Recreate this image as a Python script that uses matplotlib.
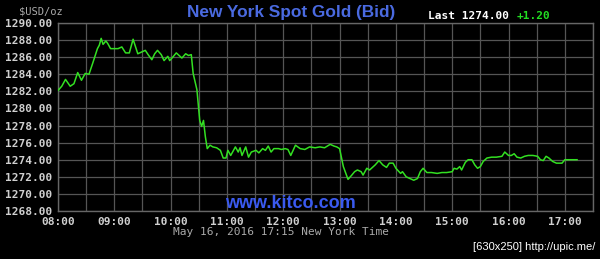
import matplotlib
matplotlib.use("Agg")
import matplotlib.pyplot as plt
import numpy as np

# Spot gold bid, May 16 2016 (New York time)
times = ["08:00", "08:04", "08:08", "08:13", "08:17", "08:21", "08:25", "08:29", "08:33", "08:37",
         "08:42", "08:44", "08:46", "08:48", "08:51", "08:53", "08:56", "09:00", "09:04", "09:08",
         "09:12", "09:16", "09:20", "09:25", "09:29", "09:33", "09:36", "09:40", "09:43", "09:46",
         "09:50", "09:53", "09:57", "09:59", "10:03", "10:06", "10:12", "10:16", "10:19", "10:22",
         "10:24", "10:28", "10:31", "10:33", "10:35", "10:37", "10:39", "10:42", "10:45", "10:49",
         "10:53", "10:56", "10:59", "11:01", "11:04", "11:09", "11:12", "11:14", "11:16", "11:20",
         "11:23", "11:26", "11:31", "11:34", "11:38", "11:41", "11:44", "11:47", "11:50", "11:55",
         "11:58", "12:02", "12:05", "12:08", "12:13", "12:18", "12:23", "12:28", "12:34", "12:39",
         "12:44", "12:50", "12:54", "12:57", "13:00", "13:04", "13:09", "13:13", "13:16", "13:19",
         "13:23", "13:25", "13:29", "13:32", "13:38", "13:42", "13:46", "13:50", "13:53", "13:57",
         "14:00", "14:05", "14:07", "14:11", "14:15", "14:19", "14:23", "14:26", "14:29", "14:33",
         "14:38", "14:44", "14:49", "14:54", "15:00", "15:02", "15:05", "15:08", "15:10", "15:14",
         "15:17", "15:21", "15:24", "15:27", "15:30", "15:33", "15:37", "15:42", "15:47", "15:53",
         "15:56", "16:00", "16:03", "16:06", "16:09", "16:13", "16:17", "16:21", "16:26", "16:31",
         "16:34", "16:37", "16:40", "16:43", "16:47", "16:51", "16:57", "17:00", "17:06", "17:13"]
prices = [1282.1, 1282.6, 1283.4, 1282.6, 1282.9, 1284.2, 1283.3, 1284.1, 1284.0, 1285.3,
          1287.0, 1287.4, 1288.2, 1287.5, 1287.9, 1287.6, 1287.0, 1287.0, 1287.0, 1287.2,
          1286.5, 1286.5, 1288.1, 1286.4, 1286.6, 1286.8, 1286.3, 1285.7, 1286.4, 1286.8,
          1286.3, 1285.6, 1286.1, 1285.6, 1286.1, 1286.5, 1285.9, 1286.4, 1286.2, 1286.3,
          1284.1, 1282.2, 1278.6, 1277.9, 1278.6, 1276.7, 1275.3, 1275.7, 1275.5, 1275.4,
          1275.1, 1274.2, 1274.2, 1275.1, 1274.5, 1275.5, 1274.9, 1275.4, 1274.5, 1275.5,
          1274.3, 1274.9, 1275.1, 1274.8, 1275.3, 1275.1, 1275.6, 1274.9, 1275.3, 1275.3,
          1275.2, 1275.3, 1275.2, 1274.5, 1275.7, 1275.3, 1275.2, 1275.5, 1275.4, 1275.5,
          1275.4, 1275.8, 1275.6, 1275.5, 1275.3, 1273.2, 1271.7, 1272.2, 1272.6, 1272.8,
          1272.6, 1272.2, 1273.0, 1272.8, 1273.4, 1273.9, 1273.4, 1273.1, 1273.6, 1273.6,
          1273.0, 1272.4, 1272.6, 1272.0, 1271.8, 1271.6, 1271.8, 1272.6, 1273.0, 1272.5,
          1272.5, 1272.4, 1272.5, 1272.5, 1272.6, 1273.0, 1272.9, 1273.2, 1272.8, 1273.7,
          1274.0, 1274.0, 1273.4, 1273.0, 1273.2, 1273.8, 1274.2, 1274.3, 1274.3, 1274.4,
          1274.9, 1274.5, 1274.5, 1274.7, 1274.3, 1274.2, 1274.4, 1274.5, 1274.5, 1274.4,
          1274.0, 1273.9, 1274.4, 1274.2, 1273.8, 1273.6, 1273.6, 1274.0, 1274.0, 1274.0]

hour_labels = ["08:00", "09:00", "10:00", "11:00", "12:00", "13:00", "14:00", "15:00", "16:00", "17:00"]
price_ticks = np.arange(1268, 1291, 2)

title = "New York Spot Gold (Bid)"
last_text = "Last 1274.00"
change_text = "+1.20"
stamp = "May 16, 2016 17:15 New York Time"


def to_hours(s):
    h, m = s.split(":")
    return int(h) + int(m) / 60.0


x = [to_hours(t) for t in times]

fig = plt.figure(figsize=(6.0, 2.59), dpi=100, facecolor="black")
ax = fig.add_axes([58 / 600, 1 - 211 / 259, 535 / 600, 188 / 259], facecolor="black")

ax.plot(x, prices, color="#33e022", linewidth=1.1, zorder=3)

# gridlines every half hour, labels on the hour only
half_hours = np.arange(8, 17.51, 0.5)
ax.set_xlim(8, 17.5)
ax.set_ylim(1268, 1290)
ax.set_xticks(half_hours)
ax.set_xticklabels([hour_labels[i // 2] if i % 2 == 0 and i // 2 < len(hour_labels) else ""
                    for i in range(len(half_hours))])
ax.set_yticks(price_ticks)
ax.set_yticklabels([f"{v:.2f}" for v in price_ticks])
ax.grid(True, color="#555555", linewidth=0.9)
ax.tick_params(length=0, colors="#d0d0d0", labelsize=8, pad=4)
for lbl in ax.get_xticklabels() + ax.get_yticklabels():
    lbl.set_family("DejaVu Sans Mono")
    lbl.set_fontweight("bold")
for sp in ax.spines.values():
    sp.set_color("#666666")
    sp.set_linewidth(1.0)

mono = "DejaVu Sans Mono"
fig.text(19 / 600, 1 - 11 / 259, "$USD/oz", color="#aaaaaa", fontsize=7.5,
         family=mono, va="center", ha="left")
fig.text(291 / 600, 1 - 12 / 259, title, color="#4a6ae0", fontsize=12.4,
         family="Liberation Sans", fontweight="bold", va="center", ha="center")
fig.text(428 / 600, 1 - 16 / 259, last_text, color="white", fontsize=8,
         family=mono, fontweight="bold", va="center", ha="left")
fig.text(517 / 600, 1 - 16 / 259, change_text, color="#22dd22", fontsize=8,
         family=mono, fontweight="bold", va="center", ha="left")
fig.text(290 / 600, 1 - 204 / 259, "www.kitco.com", color="#3a5af0", fontsize=13,
         family="Liberation Sans", fontweight="bold", va="center", ha="center")
fig.text(281 / 600, 1 - 232 / 259, stamp, color="#aaaaaa", fontsize=8,
         family=mono, va="center", ha="center")
fig.text(595 / 600, 1 - 247 / 259, "[630x250] http://upic.me/", color="white",
         fontsize=8, family="Liberation Sans", va="center", ha="right")

fig.savefig("out.png", dpi=100, facecolor="black")
